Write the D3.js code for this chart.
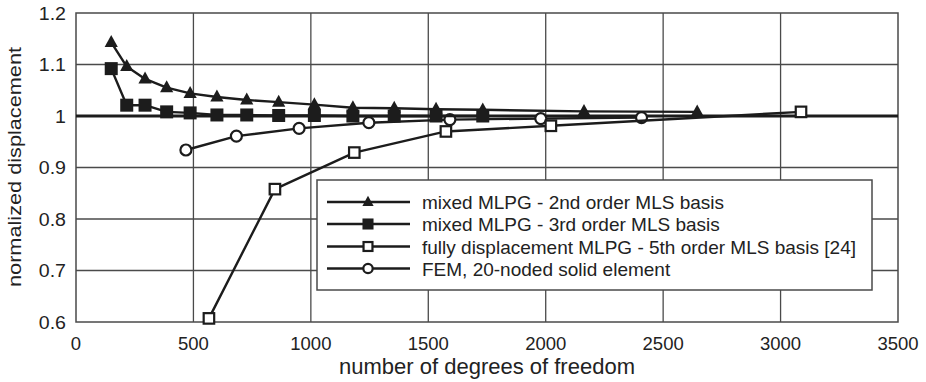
<!DOCTYPE html>
<html>
<head>
<meta charset="utf-8">
<script src="https://cdn.jsdelivr.net/npm/d3@7"></script>
<style>
  html, body { margin: 0; padding: 0; background: #fff; }
  svg { display: block; font-family: "Liberation Sans", Arial, sans-serif; }
</style>
</head>
<body>
<svg id="chart" width="926" height="382"></svg>
<script>
// Convergence of normalized displacement vs. number of degrees of freedom
const xTicks = [0, 500, 1000, 1500, 2000, 2500, 3000, 3500];
const yTicks = [0.6, 0.7, 0.8, 0.9, 1.0, 1.1, 1.2];
const yTickLabels = ["0.6", "0.7", "0.8", "0.9", "1", "1.1", "1.2"];

const seriesNames = [
  "mixed MLPG - 2nd order MLS basis",
  "mixed MLPG - 3rd order MLS basis",
  "fully displacement MLPG - 5th order MLS basis [24]",
  "FEM, 20-noded solid element"
];

const mlpg2Dof = [150, 216, 294, 386, 486, 600, 727, 863, 1015, 1179, 1355, 1533, 1732, 2163, 2645];
const mlpg2Val = [1.143, 1.096, 1.072, 1.055, 1.044, 1.037, 1.031, 1.027, 1.022, 1.016, 1.015, 1.013, 1.012, 1.009, 1.008];

const mlpg3Dof = [150, 216, 294, 386, 486, 600, 727, 863, 1015, 1179, 1355, 1533, 1732];
const mlpg3Val = [1.092, 1.021, 1.021, 1.008, 1.006, 1.002, 1.002, 1.001, 1.001, 1.0, 1.0, 1.0, 1.0];

const mlpg5Dof = [566, 847, 1185, 1575, 2022, 3087];
const mlpg5Val = [0.607, 0.858, 0.929, 0.970, 0.981, 1.008];

const femDof = [468, 683, 950, 1247, 1592, 1979, 2408];
const femVal = [0.934, 0.961, 0.976, 0.987, 0.993, 0.995, 0.997];

const reference = 1.0;

const svg = d3.select("#chart");
const plotL = 76, plotR = 898, plotT = 13, plotB = 322;

const x = d3.scaleLinear().domain([0, 3500]).range([plotL, plotR]);
const y = d3.scaleLinear().domain([0.6, 1.2]).range([plotB, plotT]);

const gridColor = "#4a4a4a";
const ink = "#1c1c1c";

// grid
svg.append("g")
  .selectAll("line")
  .data(xTicks.slice(1, -1))
  .join("line")
  .attr("x1", d => x(d)).attr("x2", d => x(d))
  .attr("y1", plotT).attr("y2", plotB)
  .attr("stroke", gridColor).attr("stroke-width", 1.3);

svg.append("g")
  .selectAll("line")
  .data(yTicks.slice(1, -1))
  .join("line")
  .attr("x1", plotL).attr("x2", plotR)
  .attr("y1", d => y(d)).attr("y2", d => y(d))
  .attr("stroke", gridColor).attr("stroke-width", 1.3);

// frame
svg.append("rect")
  .attr("x", plotL).attr("y", plotT)
  .attr("width", plotR - plotL).attr("height", plotB - plotT)
  .attr("fill", "none").attr("stroke", gridColor).attr("stroke-width", 1.5);

// reference line at 1
svg.append("line")
  .attr("x1", plotL).attr("x2", plotR)
  .attr("y1", y(reference)).attr("y2", y(reference))
  .attr("stroke", ink).attr("stroke-width", 2.8);

// x axis tick labels
svg.append("g")
  .selectAll("text")
  .data(xTicks)
  .join("text")
  .attr("x", d => x(d)).attr("y", 350)
  .attr("text-anchor", "middle")
  .attr("font-size", 18.5)
  .attr("fill", "#222")
  .text(d => d);

// y axis tick labels (slightly widened lettering)
svg.append("g")
  .selectAll("text")
  .data(yTicks)
  .join("text")
  .attr("transform", d => `translate(66,${y(d) + 6.5}) scale(1.12,1)`)
  .attr("text-anchor", "end")
  .attr("font-size", 17.5)
  .attr("fill", "#222")
  .text((d, i) => yTickLabels[i]);

// axis titles
svg.append("text")
  .attr("x", 487).attr("y", 374)
  .attr("text-anchor", "middle")
  .attr("font-size", 22)
  .attr("fill", "#222")
  .text("number of degrees of freedom");

svg.append("text")
  .attr("transform", "translate(21,167) rotate(-90)")
  .attr("text-anchor", "middle")
  .attr("font-size", 19)
  .attr("textLength", 240)
  .attr("lengthAdjust", "spacingAndGlyphs")
  .attr("fill", "#222")
  .text("normalized displacement");

// markers
const triPath = s => `M0,${-s * 0.62}L${s * 0.55},${s * 0.38}L${-s * 0.55},${s * 0.38}Z`;

function drawMarker(g, type, cx, cy, scale) {
  const k = scale || 1;
  if (type === "tri") {
    g.append("path").attr("d", triPath(12 * k))
      .attr("transform", `translate(${cx},${cy})`)
      .attr("fill", ink);
  } else if (type === "sq") {
    const s = 13 * k;
    g.append("rect").attr("x", cx - s / 2).attr("y", cy - s / 2)
      .attr("width", s).attr("height", s).attr("fill", ink);
  } else if (type === "osq") {
    const s = 10.5 * k;
    g.append("rect").attr("x", cx - s / 2).attr("y", cy - s / 2)
      .attr("width", s).attr("height", s)
      .attr("fill", "#fff").attr("stroke", ink).attr("stroke-width", 2.2);
  } else if (type === "circ") {
    g.append("circle").attr("cx", cx).attr("cy", cy).attr("r", 5.5 * k)
      .attr("fill", "#fff").attr("stroke", ink).attr("stroke-width", 2.2);
  }
}

const series = [
  { dof: femDof, val: femVal, type: "circ" },
  { dof: mlpg5Dof, val: mlpg5Val, type: "osq" },
  { dof: mlpg3Dof, val: mlpg3Val, type: "sq" },
  { dof: mlpg2Dof, val: mlpg2Val, type: "tri" }
];

const line = d3.line().x(d => x(d[0])).y(d => y(d[1]));

series.forEach(s => {
  const pts = s.dof.map((d, i) => [d, s.val[i]]);
  const g = svg.append("g");
  g.append("path").attr("d", line(pts))
    .attr("fill", "none").attr("stroke", ink).attr("stroke-width", 2.4)
    .attr("stroke-linejoin", "round");
  pts.forEach(p => drawMarker(g, s.type, x(p[0]), y(p[1])));
});

// legend
const lg = svg.append("g");
lg.append("rect")
  .attr("x", 317).attr("y", 180).attr("width", 555).attr("height", 110)
  .attr("fill", "#fff").attr("stroke", gridColor).attr("stroke-width", 1.5);

const legendTypes = ["tri", "sq", "osq", "circ"];
const rowY = [202, 224, 246.5, 268.5];
seriesNames.forEach((name, i) => {
  const cy = rowY[i];
  lg.append("line").attr("x1", 327).attr("x2", 410).attr("y1", cy).attr("y2", cy)
    .attr("stroke", ink).attr("stroke-width", 2.4);
  drawMarker(lg, legendTypes[i], 368, cy, 0.85);
  lg.append("text").attr("x", 422).attr("y", cy + 7)
    .attr("font-size", 19).attr("fill", "#222").text(name);
});
</script>
</body>
</html>
